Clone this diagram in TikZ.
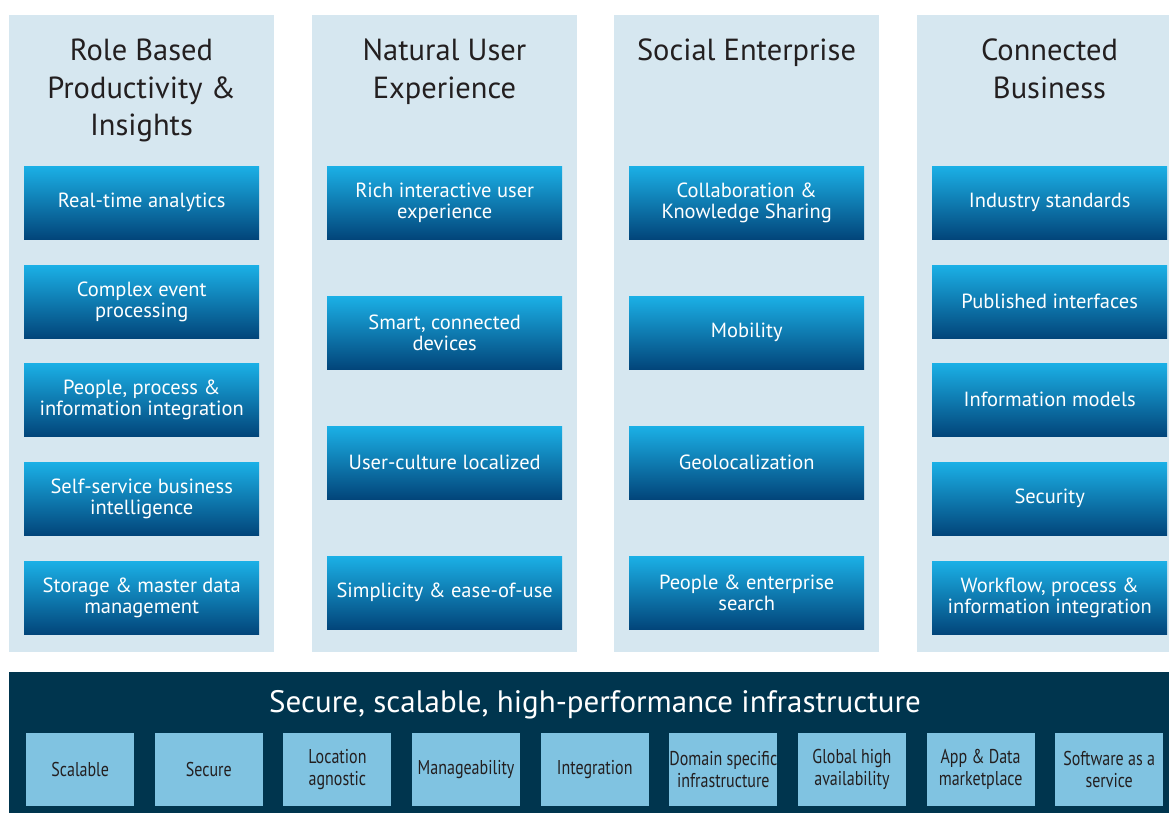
\documentclass[tikz,border=0pt]{standalone}
\usepackage{fontspec}
\setmainfont{PT Sans}
\newfontfamily\narrowfont[FakeStretch=0.8]{PT Sans}

\definecolor{panelblue}{HTML}{D6E7F0}
\definecolor{titlegray}{HTML}{231F20}
\definecolor{tiletop}{HTML}{1BB0E6}
\definecolor{tilemid}{HTML}{1A7DB4}
\definecolor{tilebot}{HTML}{02457A}
\definecolor{infranavy}{HTML}{00354E}
\definecolor{infrablue}{HTML}{80C3E1}

\tikzset{
  panel/.style={fill=panelblue},
  coltitle/.style={anchor=north,inner sep=0pt,align=center,text=titlegray,
    font=\fontsize{30.5}{37.5}\selectfont},
  tile/.style={anchor=north west,inner sep=0pt,minimum width=235pt,minimum height=73pt,
    top color=tiletop,middle color=tilemid,bottom color=tilebot,
    text=white,align=center,font=\fontsize{20.5}{21.5}\selectfont},
  infrabox/.style={anchor=north west,inner sep=0pt,minimum width=108pt,minimum height=73pt,
    fill=infrablue,text=titlegray,align=center,font=\narrowfont\fontsize{20}{22}\selectfont}
}

\begin{document}
\begin{tikzpicture}[x=1pt,y=-1pt]
  \useasboundingbox (0,0) rectangle (1169,812);

  % four pillars
  \fill[panel] (9,15) rectangle (274,652);
  \fill[panel] (312,15) rectangle (577,652);
  \fill[panel] (614,15) rectangle (879,652);
  \fill[panel] (917,15) rectangle (1182,652);

  \node[coltitle] (roletitle) at (141.5,39) {Role Based\\Productivity \&\\Insights};
  \node[coltitle] (nuitile) at (444.5,39) {Natural User\\Experience};
  \node[coltitle] (socialtitle) at (746.5,39) {Social Enterprise};
  \node[coltitle] (conntitle) at (1049.5,39) {Connected\\Business};

  % role based productivity
  \node[tile] (role1) at (24,166) {Real-time analytics};
  \node[tile] (role2) at (24,265) {Complex event\\processing};
  \node[tile] (role3) at (24,363) {People, process \&\\information integration};
  \node[tile] (role4) at (24,462) {Self-service business\\intelligence};
  \node[tile] (role5) at (24,561) {Storage \& master data\\management};

  % natural user experience
  \node[tile] (nui1) at (327,166) {Rich interactive user\\experience};
  \node[tile] (nui2) at (327,296) {Smart, connected\\devices};
  \node[tile] (nui3) at (327,426) {User-culture localized};
  \node[tile] (nui4) at (327,556) {Simplicity \& ease-of-use};

  % social enterprise
  \node[tile] (social1) at (629,166) {Collaboration \&\\Knowledge Sharing};
  \node[tile] (social2) at (629,296) {Mobility};
  \node[tile] (social3) at (629,426) {Geolocalization};
  \node[tile] (social4) at (629,556) {People \& enterprise\\search};

  % connected business
  \node[tile] (conn1) at (932,166) {Industry standards};
  \node[tile] (conn2) at (932,265) {Published interfaces};
  \node[tile] (conn3) at (932,363) {Information models};
  \node[tile] (conn4) at (932,462) {Security};
  \node[tile] (conn5) at (932,561) {Workflow, process \&\\information integration};

  % infrastructure band
  \fill[infranavy] (9,672) rectangle (1182,820);
  \node[anchor=base,text=white,font=\fontsize{31}{37}\selectfont] (infratitle) at (595,712)
    {Secure, scalable, high-performance infrastructure};
  \foreach \lbl [count=\i from 0] in {Scalable,Secure,Location\\agnostic,Manageability,
      Integration,Domain specific\\infrastructure,Global high\\availability,
      App \& Data\\marketplace,Software as a\\service}
    \node[infrabox] (infra\i) at (26+128.625*\i,733) {\lbl};
\end{tikzpicture}
\end{document}
